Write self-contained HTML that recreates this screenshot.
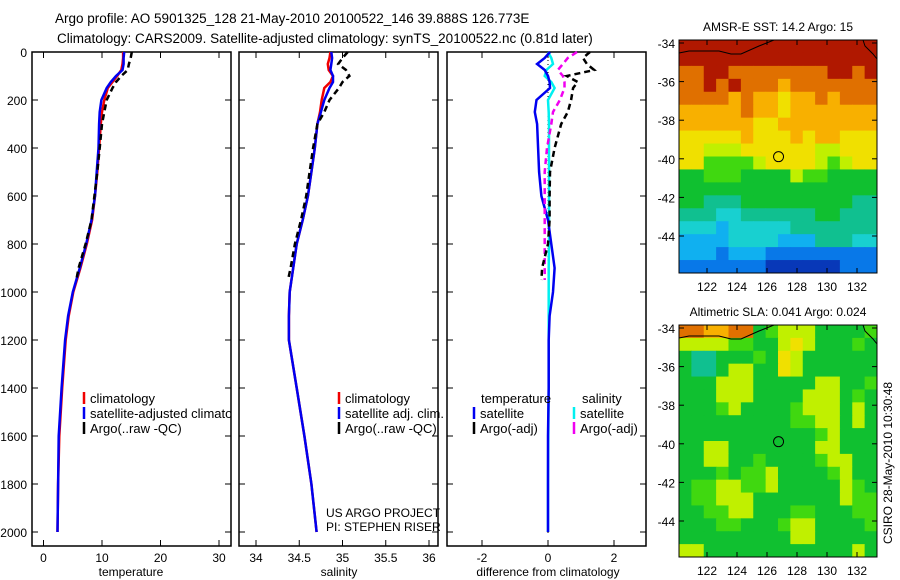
<!DOCTYPE html>
<html><head><meta charset="utf-8"><style>
html,body{margin:0;padding:0;background:#fff}
svg{display:block;font-family:"Liberation Sans",sans-serif}
</style></head><body>
<svg id="c" width="900" height="580" viewBox="0 0 900 580"></svg>
<script>
const depths=[0,25,50,75,100,125,150,200,250,300,400,500,600,700,800,900,1000,1100,1200,1400,1600,1800,2000];
const tempClim=[13.6,13.6,13.5,13.3,12.6,11.8,11.0,10.4,10.0,9.8,9.5,9.2,8.8,8.3,7.4,6.3,5.1,4.3,3.8,3.2,2.7,2.5,2.4];
const tempSat=[13.8,13.7,13.7,13.5,12.4,11.5,10.8,9.9,9.6,9.5,9.4,9.1,8.8,8.2,7.3,6.2,5.0,4.2,3.7,3.1,2.6,2.5,2.4];
const argoDepths=[0,25,50,75,100,125,150,200,250,300,400,500,600,700,800,900,950];
const tempArgo=[15.1,14.9,14.6,14.4,13.3,12.4,11.8,10.8,10.4,10.0,9.6,9.2,8.7,8.2,7.2,6.0,5.6];
const salClim=[34.86,34.85,34.83,34.84,34.89,34.86,34.79,34.76,34.74,34.71,34.68,34.64,34.60,34.54,34.47,34.43,34.39,34.38,34.38,34.47,34.56,34.64,34.70];
const salSat=[34.87,34.88,34.87,34.86,34.89,34.89,34.85,34.79,34.75,34.71,34.68,34.64,34.60,34.54,34.47,34.43,34.39,34.38,34.38,34.47,34.56,34.64,34.70];
const salArgo=[35.06,35.00,34.95,35.04,35.08,35.00,34.96,34.85,34.79,34.71,34.66,34.62,34.58,34.52,34.45,34.40,34.37];
const dTempSat=[0.06,-0.1,-0.33,-0.1,0.0,0.05,0.06,-0.35,-0.4,-0.33,-0.3,-0.27,-0.2,0.0,0.1,0.2,0.15,0.05,0.02,0.02,0.0,0.0,0.0];
const dSalSat=[0.0,0.1,0.15,-0.05,-0.1,0.1,0.2,0.0,0.02,0.03,0.03,0.03,0.03,0.03,0.03,0.02,0.02,0.02,0.02,0.02,0.01,0.0,0.0];
const dTempArgo=[1.27,1.06,1.18,1.4,0.57,0.9,0.76,0.7,0.6,0.4,0.2,0.06,0.05,0.05,0.0,-0.18,-0.2];
const dSalArgo=[0.88,0.6,0.45,0.3,0.45,0.5,0.5,0.36,0.15,0.1,-0.03,-0.1,-0.1,-0.1,-0.1,-0.1,-0.1];
const depthTicks=[0,200,400,600,800,1000,1200,1400,1600,1800,2000];
const tempTicks=[0,10,20,30];
const salTicks=[34,34.5,35,35.5,36];
const diffTicks=[-2,0,2];
const latTicks=[-34,-36,-38,-40,-42,-44];
const lonTicks=[122,124,126,128,130,132];
const argoLon=126.77, argoLat=-39.89;
const sstGrid=["bbbbbbbbbbbbbbbb","bbbbbbbbbbbbbbbb","aabbaaaaaaaabbab","aababaaa9aaaaaaa","aaaa9a99899a9aaa","99999a9989999999","9999998899999999","8888898889899888","8877788888877888","8866667888876788","5566655557665555","5555555555555555","5544455555555544","4443344444455444","3332333334444444","2222333322244433","2221222111111111","1111111000000111"];
const slaGrid=["aa99aa5677755556","7777665578755565","5445556587555555","5445775587555555","5557775555577556","5557775555777565","5556755556777575","5555555556677575","5555555555567555","5577555555577555","5577556555567755","5556566755556755","5667766755555765","5667775555555766","5566775556655566","5556655567755556","5555555557755555","7755555555555575"];
const levels="0123456789ab";
const palette=["#0838b8","#0878e8","#10b0f0","#18d0d0","#10c090","#10c030","#40d810","#c0f000","#f0e000","#f8b000","#e07000","#b01800"];

const svg=document.getElementById('c');const NS='http://www.w3.org/2000/svg';
function el(tag,attrs,parent,txt){const e=document.createElementNS(NS,tag);for(const k in attrs)e.setAttribute(k,attrs[k]);if(txt!==undefined)e.textContent=txt;(parent||svg).appendChild(e);return e;}
const yD=d=>52+d*0.24;
const pTop=52,pBot=546;
function panel(x0,x1,name){const g=el('g',{});
 el('rect',{x:x0,y:pTop,width:x1-x0,height:pBot-pTop,fill:'none',stroke:'#000','stroke-width':1.5},g);
 depthTicks.forEach(d=>{el('line',{x1:x0,x2:x0+6,y1:yD(d),y2:yD(d),stroke:'#000'},g);el('line',{x1:x1-6,x2:x1,y1:yD(d),y2:yD(d),stroke:'#000'},g);});
 return g;}
function xticks(g,ticks,fx){ticks.forEach(t=>{const x=fx(t);el('line',{x1:x,x2:x,y1:pTop,y2:pTop+6,stroke:'#000'},g);el('line',{x1:x,x2:x,y1:pBot-6,y2:pBot,stroke:'#000'},g);el('text',{x:x,y:562,'font-size':12,'text-anchor':'middle'},g,String(t));});}
function line(g,xs,ds,fx,color,name,dash){const pts=xs.map((v,i)=>fx(v).toFixed(1)+','+yD(ds[i]).toFixed(1)).join(' ');const p=el('polyline',{points:pts,fill:'none',stroke:color,'stroke-width':2.5},g);if(dash)p.setAttribute('stroke-dasharray',dash);}
function legend(g,x,y,items){items.forEach((it,i)=>{el('line',{x1:x,x2:x,y1:y+i*15-6,y2:y+i*15+6,stroke:it[0],'stroke-width':2.5},g);el('text',{x:x+6,y:y+i*15+5,'font-size':13},g,it[1]);});}

el('text',{x:55,y:23,'font-size':13.5},svg,'Argo profile: AO 5901325_128 21-May-2010 20100522_146 39.888S 126.773E');
el('text',{x:57,y:43,'font-size':13.5},svg,'Climatology: CARS2009. Satellite-adjusted climatology: synTS_20100522.nc (0.81d later)');
depthTicks.forEach(d=>el('text',{x:27,y:yD(d)+5,'font-size':12,'text-anchor':'end'},svg,String(d)));

const fT=v=>43.5+v*5.85;
let g1=panel(32,231,'temperature-panel');xticks(g1,tempTicks,fT);
line(g1,tempClim,depths,fT,'#f00000','temp-climatology');
line(g1,tempSat,depths,fT,'#0000f0','temp-satellite-adjusted');
line(g1,tempArgo,argoDepths,fT,'#000','temp-argo','6,4');
el('text',{x:131,y:576,'font-size':12,'text-anchor':'middle'},g1,'temperature');
const cp1=el('clipPath',{id:'cp1'});el('rect',{x:32,y:52,width:199,height:494},cp1);
const lg1=el('g',{'clip-path':'url(#cp1)'},g1);
legend(lg1,84,398,[['#f00000','climatology'],['#0000f0','satellite-adjusted climatology'],['#000','Argo(..raw -QC)']]);

const fS=v=>256+(v-34)*86.5;
let g2=panel(239,438,'salinity-panel');xticks(g2,salTicks,fS);
line(g2,salClim,depths,fS,'#f00000','sal-climatology');
line(g2,salSat,depths,fS,'#0000f0','sal-satellite-adjusted');
line(g2,salArgo,argoDepths,fS,'#000','sal-argo','6,4');
el('text',{x:339,y:576,'font-size':12,'text-anchor':'middle'},g2,'salinity');
legend(g2,339,398,[['#f00000','climatology'],['#0000f0','satellite adj. clim.'],['#000','Argo(..raw -QC)']]);
el('text',{x:326,y:517,'font-size':12},g2,'US ARGO PROJECT');
el('text',{x:326,y:531,'font-size':12},g2,'PI: STEPHEN RISER');

const fD=v=>548+v*33;
let g3=panel(447,646,'difference-panel');xticks(g3,diffTicks,fD);
el('line',{x1:548,x2:548,y1:52,y2:536,stroke:'#000','stroke-dasharray':'1,3'},g3);
line(g3,dSalSat,depths,fD,'#00f0f0','sal-diff-satellite');
line(g3,dTempSat,depths,fD,'#0000f0','temp-diff-satellite');
line(g3,dSalArgo,argoDepths,fD,'#f000f0','sal-diff-argo','6,4');
line(g3,dTempArgo,argoDepths,fD,'#000','temp-diff-argo','6,4');
el('text',{x:548,y:576,'font-size':12,'text-anchor':'middle'},g3,'difference from climatology');
el('text',{x:481,y:403,'font-size':13},g3,'temperature');
el('text',{x:582,y:403,'font-size':13},g3,'salinity');
legend(g3,474,413,[['#0000f0','satellite'],['#000','Argo(-adj)']]);
legend(g3,574,413,[['#00f0f0','satellite'],['#f000f0','Argo(-adj)']]);

function map(y0,y1,grid,title,name){const x0=679,x1=877;const g=el('g',{});
 const rows=grid.length,cols=grid[0].length,cw=(x1-x0)/cols,ch=(y1-y0)/rows;
 grid.forEach((r,i)=>{for(let j=0;j<cols;j++){const c=el('rect',{x:x0+j*cw,y:y0+i*ch,width:cw+0.5,height:ch+0.5,fill:palette[levels.indexOf(r[j])]},g);}});
 el('rect',{x:x0,y:y0,width:x1-x0,height:y1-y0,fill:'none',stroke:'#000'},g);
 const fy=lat=>y0+3+(-34-lat)*19.3, fx=lon=>707+(lon-122)*15;
 latTicks.forEach(l=>{el('line',{x1:x0,x2:x0+5,y1:fy(l),y2:fy(l),stroke:'#000'},g);el('line',{x1:x1-5,x2:x1,y1:fy(l),y2:fy(l),stroke:'#000'},g);el('text',{x:675,y:fy(l)+5,'font-size':12,'text-anchor':'end'},g,String(l));});
 lonTicks.forEach(l=>{el('line',{x1:fx(l),x2:fx(l),y1:y0,y2:y0+5,stroke:'#000'},g);el('line',{x1:fx(l),x2:fx(l),y1:y1-5,y2:y1,stroke:'#000'},g);el('text',{x:fx(l),y:y1+18,'font-size':12,'text-anchor':'middle'},g,String(l));});
 el('polyline',{points:`${x0},${y0+13} ${x0+10},${y0+11} ${x0+40},${y0+11} ${x0+52},${y0+14} ${x0+62},${y0+14} ${x0+80},${y0+6} ${x0+95},${y0}`,fill:'none',stroke:'#000'},g);
 el('polyline',{points:`${x1-14},${y0} ${x1-12},${y0+6} ${x1-4},${y0+14} ${x1},${y0+19}`,fill:'none',stroke:'#000'},g);
 el('circle',{cx:fx(argoLon),cy:fy(argoLat),r:5,fill:'none',stroke:'#000'},g);
 el('text',{x:778,y:y0-9,'font-size':12,'text-anchor':'middle'},g,title);}
map(40,273,sstGrid,'AMSR-E SST: 14.2  Argo: 15','sst-map');
map(325,557,slaGrid,'Altimetric SLA: 0.041  Argo: 0.024','sla-map');
el('text',{x:0,y:0,'font-size':12,'text-anchor':'middle',transform:'translate(892,463) rotate(-90)'},svg,'CSIRO 28-May-2010 10:30:48');
</script>
</body></html>
